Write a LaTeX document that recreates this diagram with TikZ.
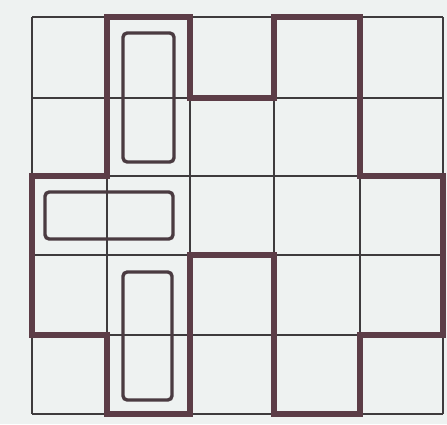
\documentclass[tikz,border=0pt]{standalone}
\usepackage{tikz}
\usetikzlibrary{calc}
\definecolor{mPaper}{HTML}{EEF2F1}
\definecolor{mInk}{HTML}{3E3B3D}
\definecolor{mWall}{HTML}{5C3D47}
\definecolor{mTile}{HTML}{4A3B41}

\begin{document}
\begin{tikzpicture}[x=0.025cm, y=-0.025cm,
    gridline/.style={draw=mInk, line width=1.3pt},
    wall/.style={draw=mWall, line width=4pt, line join=miter},
    domino/.style={draw=mTile, line width=2.4pt, rounded corners=3pt}]
    \fill[mPaper] (0,0) rectangle (447,424);
    \foreach \x in {32,107,190,274,360,443}
        \draw[gridline] (\x,17) -- (\x,414);
    \foreach \y in {17,98,176,255,335,414}
        \draw[gridline] (32,\y) -- (443,\y);
    \draw[wall] (107,17) -- (190,17) -- (190,98) -- (274,98) -- (274,17)
        -- (360,17) -- (360,176) -- (443,176) -- (443,335) -- (360,335)
        -- (360,414) -- (274,414) -- (274,255) -- (190,255) -- (190,414)
        -- (107,414) -- (107,335) -- (32,335) -- (32,176) -- (107,176) -- cycle;
    \draw[domino] (123,33) rectangle (174,162);
    \draw[domino] (45,192) rectangle (173,239);
    \draw[domino] (123,272) rectangle (172,400);
  \end{tikzpicture}
\end{document}
